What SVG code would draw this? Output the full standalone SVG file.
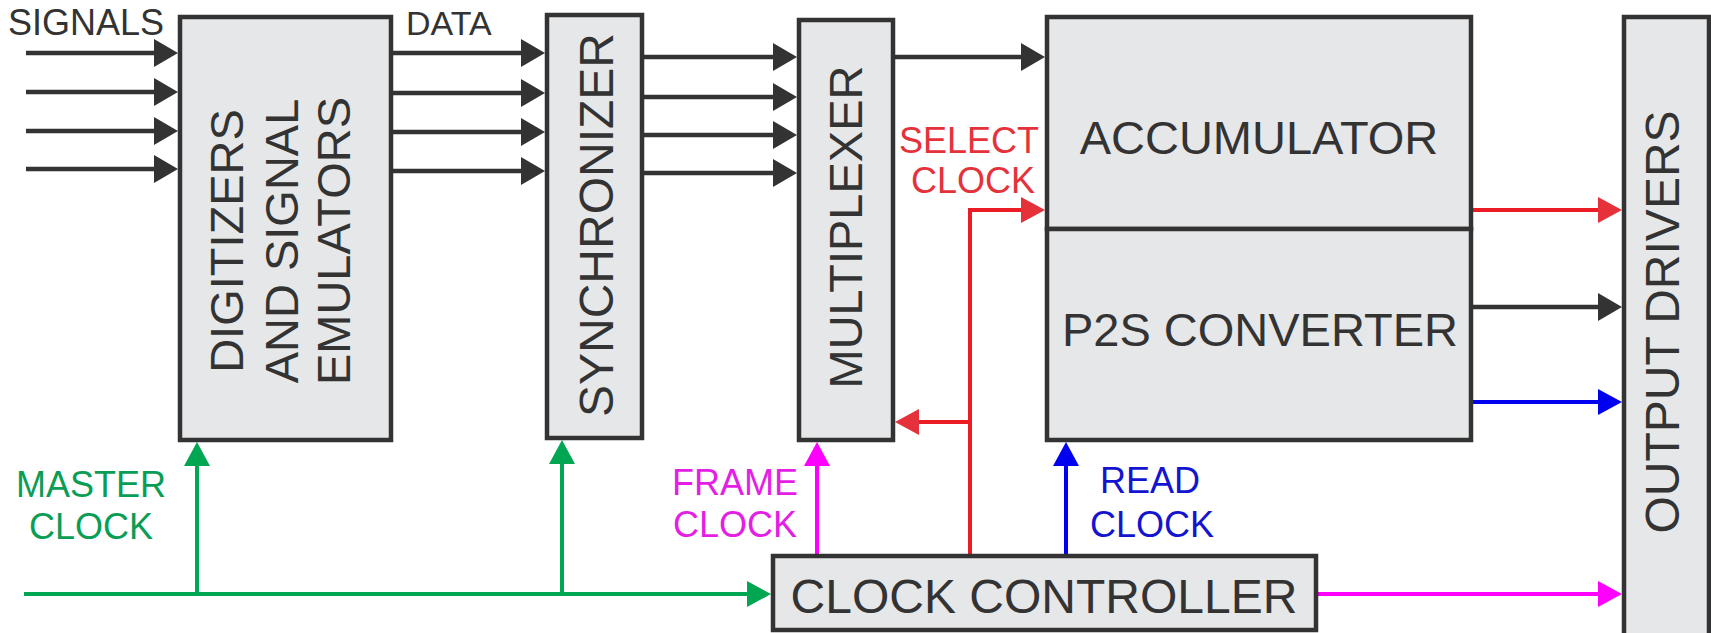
<svg xmlns="http://www.w3.org/2000/svg" width="1711" height="633" viewBox="0 0 1711 633">
<style>
.box{fill:#e6e7e8;stroke:#333;stroke-width:4.5}
.bt{font-family:"Liberation Sans",Arial,sans-serif;font-size:47px;fill:#333}
.lb{font-family:"Liberation Sans",Arial,sans-serif;font-size:36px}
.k{stroke:#333;stroke-width:4.5;fill:none}
.r{stroke:#ec1c24;stroke-width:4;fill:none}
.b{stroke:#0000f0;stroke-width:4;fill:none}
.m{stroke:#ff00ff;stroke-width:4;fill:none}
.g{stroke:#00a651;stroke-width:4;fill:none}
</style>
<defs>
<marker id="ak" markerUnits="userSpaceOnUse" markerWidth="26" markerHeight="30" refX="0" refY="14" orient="auto"><path d="M0,0 L24,14 L0,28 z" fill="#333"/></marker>
<marker id="ar" markerUnits="userSpaceOnUse" markerWidth="26" markerHeight="30" refX="0" refY="14" orient="auto"><path d="M0,1 L24,14 L0,27 z" fill="#e5323a"/></marker>
<marker id="ab" markerUnits="userSpaceOnUse" markerWidth="26" markerHeight="30" refX="0" refY="14" orient="auto"><path d="M0,1 L24,14 L0,27 z" fill="#0000f0"/></marker>
<marker id="am" markerUnits="userSpaceOnUse" markerWidth="26" markerHeight="30" refX="0" refY="14" orient="auto"><path d="M0,1 L24,14 L0,27 z" fill="#ff00ff"/></marker>
<marker id="ag" markerUnits="userSpaceOnUse" markerWidth="26" markerHeight="30" refX="0" refY="14" orient="auto"><path d="M0,1 L24,14 L0,27 z" fill="#00a651"/></marker>
</defs>
<rect width="1711" height="633" fill="#fff"/>

<g id="connectors">
<path class="k" marker-end="url(#ak)" d="M26,53 H154"/>
<path class="k" marker-end="url(#ak)" d="M26,92 H154"/>
<path class="k" marker-end="url(#ak)" d="M26,131 H154"/>
<path class="k" marker-end="url(#ak)" d="M26,169 H154"/>
<path class="k" marker-end="url(#ak)" d="M393,53 H521"/>
<path class="k" marker-end="url(#ak)" d="M393,93 H521"/>
<path class="k" marker-end="url(#ak)" d="M393,132 H521"/>
<path class="k" marker-end="url(#ak)" d="M393,171 H521"/>
<path class="k" marker-end="url(#ak)" d="M644,57 H773"/>
<path class="k" marker-end="url(#ak)" d="M644,97 H773"/>
<path class="k" marker-end="url(#ak)" d="M644,135 H773"/>
<path class="k" marker-end="url(#ak)" d="M644,173 H773"/>
<path class="k" marker-end="url(#ak)" d="M895,57 H1021"/>
<path class="k" marker-end="url(#ak)" d="M1473,307 H1598"/>
<path class="r" marker-end="url(#ar)" d="M970,554 V210 H1021"/>
<path class="r" marker-end="url(#ar)" d="M970,422 H919"/>
<path class="r" marker-end="url(#ar)" d="M1473,210 H1598"/>
<path class="b" marker-end="url(#ab)" d="M1066,554 V466"/>
<path class="b" marker-end="url(#ab)" d="M1473,402 H1598"/>
<path class="m" marker-end="url(#am)" d="M817,554 V466"/>
<path class="m" marker-end="url(#am)" d="M1318,594 H1598"/>
<path class="g" marker-end="url(#ag)" d="M24,594 H747"/>
<path class="g" marker-end="url(#ag)" d="M197,594 V466"/>
<path class="g" marker-end="url(#ag)" d="M562,594 V464"/>
</g>

<g id="labels">
<text class="lb" x="8" y="35" fill="#333" font-size="36">SIGNALS</text>
<text class="lb" x="406" y="35" fill="#333" style="font-size:34px">DATA</text>
<text class="lb" fill="#e5323a" text-anchor="middle"><tspan x="969" y="153">SELECT</tspan><tspan x="973" y="193">CLOCK</tspan></text>
<text class="lb" fill="#0a9d55" text-anchor="middle"><tspan x="91" y="497">MASTER</tspan><tspan x="91" y="539">CLOCK</tspan></text>
<text class="lb" fill="#e51ee5" text-anchor="middle"><tspan x="735" y="495">FRAME</tspan><tspan x="735" y="537">CLOCK</tspan></text>
<text class="lb" fill="#1414d0" text-anchor="middle"><tspan x="1150" y="493">READ</tspan><tspan x="1152" y="537">CLOCK</tspan></text>
</g>

<g id="digitizers">
<rect class="box" x="180" y="17" width="211" height="423"/>
<text class="bt" text-anchor="middle" transform="translate(243,241) rotate(-90)">DIGITIZERS</text>
<text class="bt" text-anchor="middle" transform="translate(298,241) rotate(-90)">AND SIGNAL</text>
<text class="bt" text-anchor="middle" transform="translate(350,241) rotate(-90)">EMULATORS</text>
</g>
<g id="synchronizer">
<rect class="box" x="547" y="15" width="95" height="423"/>
<text class="bt" text-anchor="middle" style="font-size:48px" transform="translate(613,225) rotate(-90)">SYNCHRONIZER</text>
</g>
<g id="multiplexer">
<rect class="box" x="799" y="20" width="94" height="420"/>
<text class="bt" text-anchor="middle" transform="translate(862,227) rotate(-90)">MULTIPLEXER</text>
</g>
<g id="accumulator">
<rect class="box" x="1047" y="17" width="424" height="212"/>
<text class="bt" text-anchor="middle" x="1259" y="154">ACCUMULATOR</text>
</g>
<g id="p2s">
<rect class="box" x="1047" y="229" width="424" height="211"/>
<text class="bt" text-anchor="middle" x="1260" y="346">P2S CONVERTER</text>
</g>
<g id="output-drivers">
<rect class="box" x="1624" y="17" width="85" height="640"/>
<text class="bt" text-anchor="middle" style="font-size:48px" transform="translate(1679,322) rotate(-90)">OUTPUT DRIVERS</text>
</g>
<g id="clock-controller">
<rect class="box" x="773" y="556" width="543" height="74"/>
<text class="bt" text-anchor="middle" style="font-size:48px" x="1044" y="613">CLOCK CONTROLLER</text>
</g>
</svg>
